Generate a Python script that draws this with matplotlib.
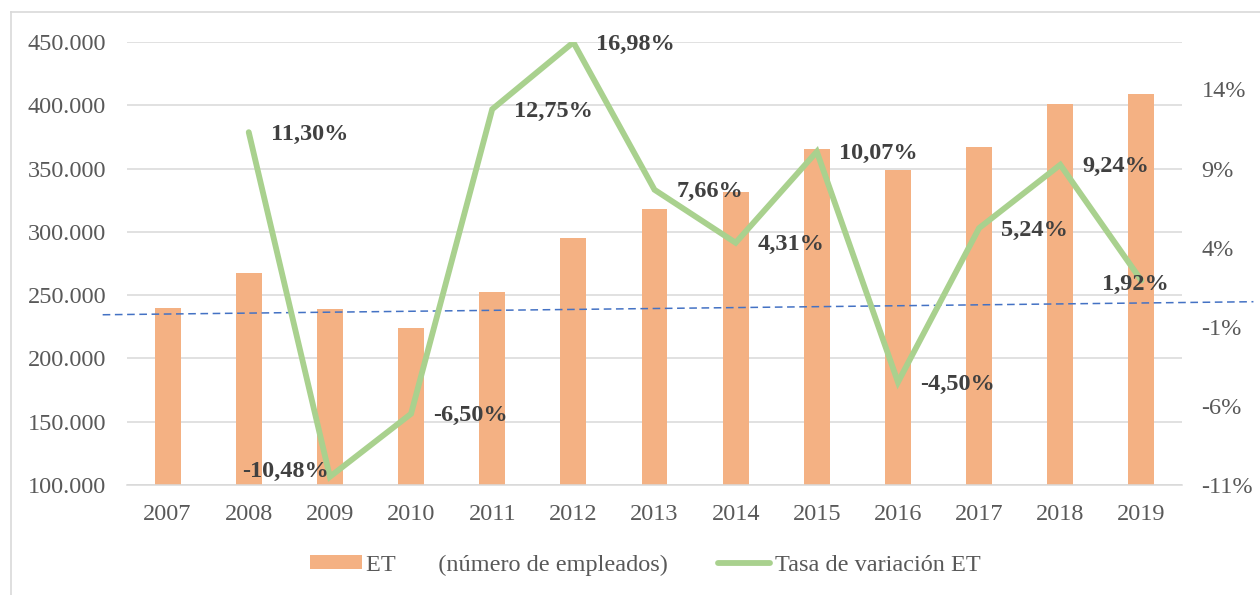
import matplotlib
matplotlib.use("Agg")
import matplotlib.pyplot as plt
from matplotlib.ticker import FuncFormatter, FixedLocator
from matplotlib.lines import Line2D
from matplotlib.patches import Patch

# ---------------- data ----------------
years = ["2007", "2008", "2009", "2010", "2011", "2012", "2013",
         "2014", "2015", "2016", "2017", "2018", "2019"]
employees = [240100, 267500, 239100, 223800, 252200, 295100, 318100,
             331500, 365200, 348600, 366800, 400800, 408700]
rate_years = years[1:]
rates = [11.30, -10.48, -6.50, 12.75, 16.98, 7.66, 4.31, 10.07,
         -4.50, 5.24, 9.24, 1.92]
rate_labels = ["11,30%", "-10,48%", "-6,50%", "12,75%", "16,98%", "7,66%",
               "4,31%", "10,07%", "-4,50%", "5,24%", "9,24%", "1,92%"]
left_ticks = [100000, 150000, 200000, 250000, 300000, 350000, 400000, 450000]
right_ticks = [-11, -6, -1, 4, 9, 14]
right_tick_labels = ["-11%", "-6%", "-1%", "4%", "9%", "14%"]
# dashed reference line (x in category units, y in left-axis units)
dash_x = [-0.8, 13.38]
dash_y = [234500, 244800]

legend_bar = "ET       (número de empleados)"
legend_line = "Tasa de variación ET"

# ---------------- style ----------------
plt.rcParams["font.family"] = ["Liberation Serif", "DejaVu Serif"]
BAR_C = "#F4B183"
LINE_C = "#A9D18E"
GRID_C = "#D9D9D9"
TICK_C = "#595959"
LBL_C = "#404040"
FS = 17.5

fig = plt.figure(figsize=(12.6, 5.95), dpi=100)
ax = fig.add_axes([0.1008, 0.1849, 0.8373, 0.7445])
ax2 = ax.twinx()

x = list(range(len(years)))
ax.bar(x, employees, width=0.32, color=BAR_C, zorder=2)
ax.set_ylim(100000, 450000)
ax.set_xlim(-0.5, len(years) - 0.5)
ax.yaxis.set_major_locator(FixedLocator(left_ticks))
ax.yaxis.set_major_formatter(FuncFormatter(lambda v, p: f"{int(v):,}".replace(",", ".")))
ax.set_xticks(x)
ax.set_xticklabels(years)
ax.grid(axis="y", color=GRID_C, linewidth=1.1, zorder=0)
ax.set_axisbelow(True)
for s in ["top", "right", "left"]:
    ax.spines[s].set_visible(False)
ax.spines["bottom"].set_color(GRID_C)
ax.spines["bottom"].set_linewidth(1.1)
ax.tick_params(axis="y", length=0, pad=15, labelsize=FS, labelcolor=TICK_C)
ax.tick_params(axis="x", length=0, pad=14, labelsize=FS, labelcolor=TICK_C)

ax.plot(dash_x, dash_y, linestyle=(0, (5, 3)), color="#4472C4", linewidth=1.1,
        clip_on=False, zorder=3)

# rate line
xr = [years.index(y) for y in rate_years]
ax2.plot(xr, rates, color=LINE_C, linewidth=4.2, solid_capstyle="round",
         solid_joinstyle="miter", zorder=4)
ax2.set_ylim(-11, 17)
ax2.yaxis.set_major_locator(FixedLocator(right_ticks))
ax2.set_yticklabels(right_tick_labels)
for s in ["top", "right", "left", "bottom"]:
    ax2.spines[s].set_visible(False)
ax2.tick_params(axis="y", length=0, pad=14, labelsize=FS, labelcolor=TICK_C)

offsets = {1: ((-1, 4), "right"), 11: ((-4, -3), "center")}
for i, (xi, v, t) in enumerate(zip(xr, rates, rate_labels)):
    off, ha = offsets.get(i, ((16, -1.5), "left"))
    ax2.annotate(t, (xi, v), xytext=off, textcoords="offset points",
                 ha=ha, va="center", fontsize=FS, fontweight="bold",
                 color=LBL_C, zorder=5)

# legend
handles = [Patch(facecolor=BAR_C, edgecolor="none"),
           Line2D([0], [0], color=LINE_C, linewidth=4.2, solid_capstyle="round")]
fig.legend(handles, [legend_bar, legend_line], loc="center",
           bbox_to_anchor=(0.512, 0.0504), ncol=2, frameon=False,
           fontsize=FS, labelcolor=TICK_C, handlelength=2.15,
           handleheight=0.47, handletextpad=0.19, columnspacing=2.05,
           borderpad=0.2)

# chart border (left + top lines)
fig.add_artist(Line2D([11 / 1260, 11 / 1260], [0, 1 - 12 / 595],
                      transform=fig.transFigure, color=GRID_C, linewidth=1.2))
fig.add_artist(Line2D([11 / 1260, 1], [1 - 12 / 595, 1 - 12 / 595],
                      transform=fig.transFigure, color=GRID_C, linewidth=1.2))

fig.savefig("out.png", dpi=100)
